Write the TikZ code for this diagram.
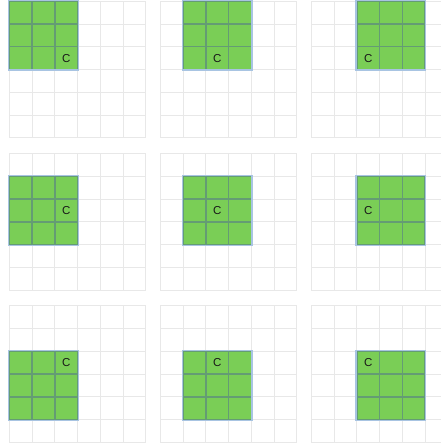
\documentclass[tikz,border=0pt]{standalone}
\usepackage{fontspec}
\setsansfont{Liberation Sans}
\usetikzlibrary{calc}
\definecolor{gridgray}{RGB}{232,232,232}
\definecolor{kgreen}{RGB}{122,206,86}
\definecolor{kedge}{RGB}{100,156,116}
\definecolor{kblue}{RGB}{168,196,226}
\definecolor{labgray}{RGB}{25,25,25}
\tikzset{
    cellline/.style={draw=gridgray, line width=0.8pt},
    kcell/.style={fill=kgreen, draw=kedge, line width=1.6pt},
    kframe/.style={draw=kblue, line width=1.3pt},
    lab/.style={
        font=\fontsize{11.5}{13}\selectfont\sffamily, text=labgray
    }
}

\begin{document}
\begin{tikzpicture}[x=1pt,y=1pt,line join=miter]

% --- geometry (tuned to match the reference) ---
    \def\cw{22.75}     % cell size
    \def\px{151}       % panel pitch (horizontal)
    \def\py{152.3}     % panel pitch (vertical)
    \useasboundingbox (0,0) rectangle (441,447);

% nine panels, the 3x3 window slides one cell per panel
    \foreach \i in {0,1,2}{
      \foreach \j in {0,1,2}{
        \begin{scope}[shift={(9.3+\j*\px,445.8-\i*\py)}]
        % background 6x6 grid
          \foreach \k in {0,...,6}{
            \draw[cellline] (\k*\cw,0) -- (\k*\cw,-6*\cw);
            \draw[cellline] (0,-\k*\cw) -- (6*\cw,-\k*\cw);
          }
        % window cells
          \foreach \c in {0,1,2}
            \foreach \r in {0,1,2}
              \draw[kcell] ({(\j+\c)*\cw},{-(\i+\r)*\cw}) rectangle ++(\cw,-\cw);
          \draw[kframe] ({\j*\cw-0.7},{-\i*\cw+0.7}) rectangle ++(3*\cw+1.4,-3*\cw-1.4);
        % centre cell label
          \node[lab] (c\i\j) at (2.5*\cw,-2.5*\cw) {C};
        \end{scope}
      }
    }

\end{tikzpicture}
\end{document}
